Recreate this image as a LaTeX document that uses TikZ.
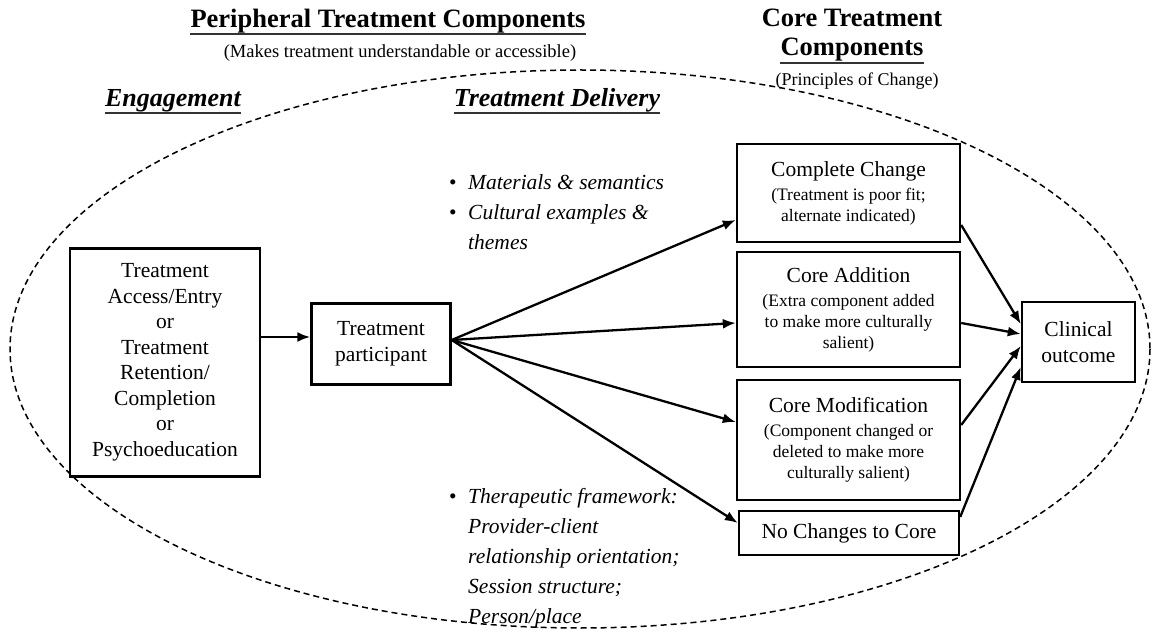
\documentclass[tikz,border=0pt]{standalone}
\usepackage{fontspec}
\setmainfont{Liberation Serif}
\usetikzlibrary{arrows.meta,calc}
\begin{document}
\begin{tikzpicture}[x=1pt,y=-1pt,
  box/.style={draw, line width=2.4pt, inner sep=0pt, align=center, font=\fontsize{21.5}{25.5}\selectfont},
  subbox/.style={box, font=\fontsize{17.5}{21}\selectfont},
  arr/.style={line width=2.3pt, -{Latex[length=13pt,width=10pt]}},
  head/.style={inner sep=0pt, anchor=base, font=\fontsize{26.5}{30}\selectfont\bfseries},
  headit/.style={head, font=\fontsize{26}{30}\selectfont\bfseries\itshape},
  sub/.style={inner sep=0pt, anchor=base, font=\fontsize{18.5}{22}\selectfont},
  bul/.style={inner sep=0pt, anchor=north west, align=left, font=\fontsize{21.5}{30}\selectfont\itshape},
  ul/.style={line width=1.8pt, black!80}]
\useasboundingbox (0,0) rectangle (1152,636);
\fill[white] (0,0) rectangle (1152,636);
% dashed ellipse
\draw[line width=1.5pt, dash pattern=on 6pt off 4pt] (580,349) ellipse [x radius=570, y radius=279];

% headings
\node[head] (h1) at (388,28) {Peripheral Treatment Components};
\draw[ul] ($(h1.base west)+(0,6)$) -- ($(h1.base east)+(0,6)$);
\node[sub] (h1s) at (400,58) {(Makes treatment understandable or accessible)};
\node[head] (h2) at (852,27) {Core Treatment};
\node[head] (h2b) at (852,56) {Components};
\draw[ul] ($(h2b.base west)+(0,7)$) -- ($(h2b.base east)+(0,7)$);
\node[sub, font=\fontsize{18}{22}\selectfont] (h2s) at (857,86) {(Principles of Change)};
\node[headit] (eng) at (173,107) {Engagement};
\draw[ul] ($(eng.base west)+(0,6)$) -- ($(eng.base east)+(0,6)$);
\node[headit] (tdel) at (557,107) {Treatment Delivery};
\draw[ul] ($(tdel.base west)+(0,6)$) -- ($(tdel.base east)+(0,6)$);

% bullets
\node[bul] (b1) at (449,174) {\makebox[19pt][l]{\upshape\textbullet}Materials \& semantics\\
\makebox[19pt][l]{\upshape\textbullet}Cultural examples \&\\
\hspace*{19pt}themes};
\node[bul] (b2) at (449,488) {\makebox[19pt][l]{\upshape\textbullet}Therapeutic framework:\\
\hspace*{19pt}Provider-client\\
\hspace*{19pt}relationship orientation;\\
\hspace*{19pt}Session structure;\\
\hspace*{19pt}Person/place};

% boxes
\node[box, minimum width=190pt, minimum height=228pt] (L) at (165,362.5)
  {Treatment\\Access/Entry\\or\\Treatment\\Retention/\\Completion\\or\\Psychoeducation};
\node[box, minimum width=139pt, minimum height=81pt] (P) at (381,344)
  {Treatment\\participant};
\node[subbox, minimum width=223pt, minimum height=98pt] (CC) at (848.5,193)
  {{\fontsize{21.5}{21}\selectfont Complete Change}\\[3pt](Treatment is poor fit;\\alternate indicated)};
\node[subbox, minimum width=223pt, minimum height=115pt] (CA) at (848.5,309.5)
  {{\fontsize{21.5}{21}\selectfont Core Addition}\\[3pt](Extra component added\\to make more culturally\\salient)};
\node[subbox, minimum width=223pt, minimum height=120pt] (CM) at (848.5,440)
  {{\fontsize{21.5}{21}\selectfont Core Modification}\\[3pt](Component changed or\\deleted to make more\\culturally salient)};
\node[box, minimum width=220pt, minimum height=44pt] (NC) at (849,533)
  {No Changes to Core};
\node[box, minimum width=113pt, minimum height=80pt] (CO) at (1078.5,342)
  {Clinical\\outcome};

% connectors
\coordinate (pin) at ($(P.west)+(0,-7)$);
\draw[arr] (L.east |- pin) -- (pin);
\coordinate (ps) at ($(P.east)+(0,-4)$);
\draw[arr] (ps) -- ($(CC.west)+(0,27)$);
\draw[arr] (ps) -- ($(CA.west)+(0,13.5)$);
\draw[arr] (ps) -- ($(CM.west)+(0,-18)$);
\draw[arr] (ps) -- ($(NC.west)+(0,-10)$);
\draw[arr] ($(CC.east)+(0,32)$) -- ($(CO.west)+(0,-18)$);
\draw[arr] ($(CA.east)+(0,13.5)$) -- ($(CO.west)+(0,-8)$);
\draw[arr] ($(CM.east)+(0,-15)$) -- ($(CO.west)+(0,4)$);
\draw[arr] ($(NC.east)+(0,-16)$) -- ($(CO.west)+(0,25)$);
\end{tikzpicture}
\end{document}
